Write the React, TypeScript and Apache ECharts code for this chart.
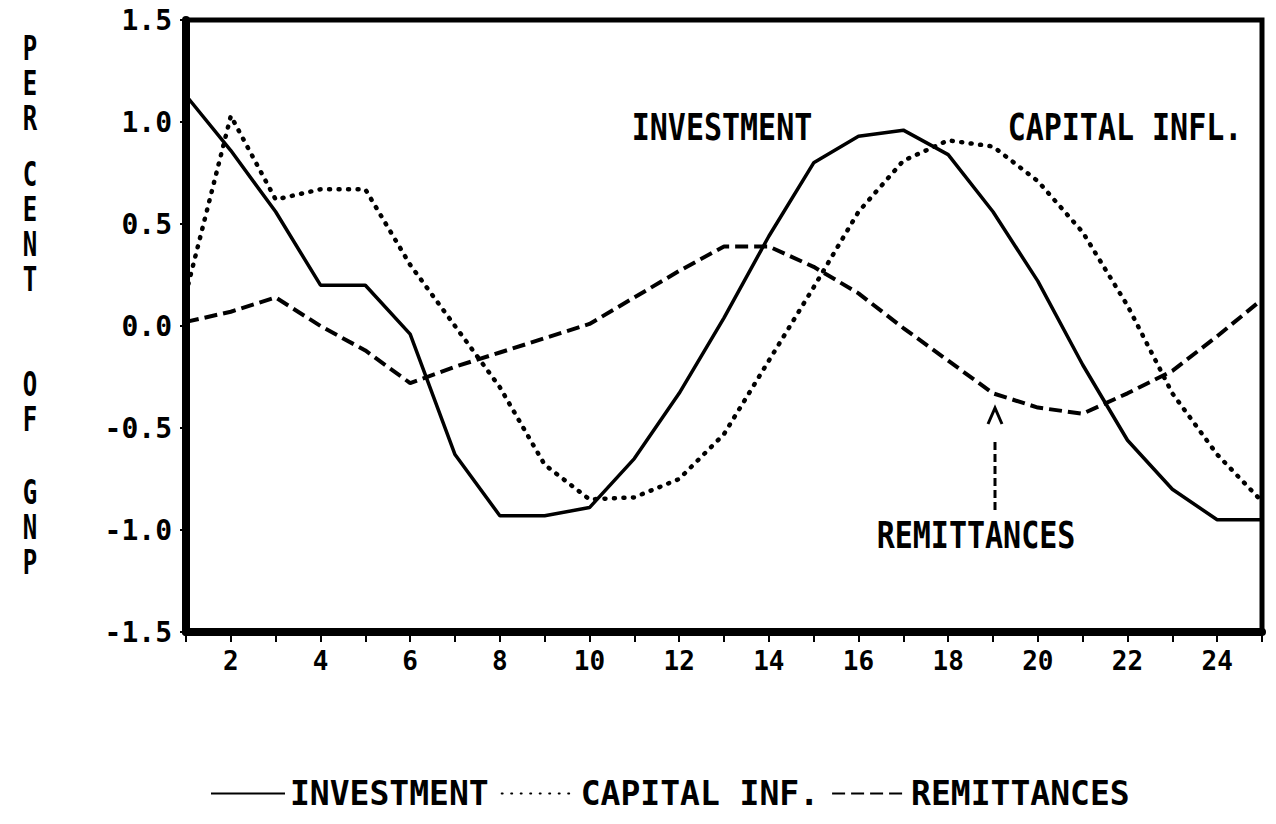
import React, { useEffect, useRef } from "react";
import * as echarts from "echarts";

const periods = [1, 2, 3, 4, 5, 6, 7, 8, 9, 10, 11, 12, 13, 14, 15, 16, 17, 18, 19, 20, 21, 22, 23, 24, 25];
const investment = [1.13, 0.86, 0.56, 0.2, 0.2, -0.04, -0.63, -0.93, -0.93, -0.89, -0.65, -0.33, 0.04, 0.44, 0.8, 0.93, 0.96, 0.84, 0.56, 0.22, -0.19, -0.56, -0.8, -0.95, -0.95];
const capitalInflows = [0.16, 1.03, 0.62, 0.67, 0.67, 0.3, 0.0, -0.3, -0.68, -0.85, -0.84, -0.75, -0.53, -0.17, 0.19, 0.56, 0.81, 0.91, 0.88, 0.71, 0.46, 0.1, -0.33, -0.63, -0.86];
const remittances = [0.02, 0.07, 0.14, 0.0, -0.12, -0.28, -0.2, -0.13, -0.06, 0.01, 0.14, 0.27, 0.39, 0.39, 0.29, 0.16, -0.01, -0.17, -0.33, -0.4, -0.43, -0.33, -0.22, -0.05, 0.13];

const seriesNames = ["INVESTMENT", "CAPITAL INF.", "REMITTANCES"];
const yTitleWords = ["P\nE\nR", "C\nE\nN\nT", "O\nF", "G\nN\nP"];
const yTitleTops = [31, 157, 367, 475];

const FONT = '"DejaVu Sans Mono", "Liberation Mono", monospace';

export default function App() {
  const ref = useRef<HTMLDivElement>(null);
  useEffect(() => {
    document.body.style.margin = "0";
    const chart = echarts.init(ref.current!, null, { renderer: "svg" });
    const pair = (arr: number[]) => periods.map((p, i) => [p, arr[i]]);
    const hiddenItem = { color: "rgba(0,0,0,0)", borderWidth: 0, opacity: 0 };
    chart.setOption({
      animation: false,
      backgroundColor: "#ffffff",
      grid: {
        left: 186,
        right: 14,
        top: 20,
        bottom: 192,
        show: true,
        borderColor: "#000",
        borderWidth: 5,
        backgroundColor: "transparent",
      },
      xAxis: {
        type: "value",
        min: 1,
        max: 25,
        interval: 1,
        splitLine: { show: false },
        axisLine: { show: true, onZero: false, lineStyle: { color: "#000", width: 8 } },
        axisTick: { show: true, length: 10, lineStyle: { color: "#000", width: 2 } },
        axisLabel: {
          margin: 16,
          fontFamily: FONT,
          fontWeight: "bold",
          fontSize: 26,
          color: "#000",
          formatter: (v: number) => (v % 2 === 0 ? String(v) : ""),
        },
      },
      yAxis: {
        type: "value",
        min: -1.5,
        max: 1.5,
        interval: 0.5,
        splitLine: { show: false },
        axisLine: { show: true, onZero: false, lineStyle: { color: "#000", width: 8 } },
        axisTick: { show: true, length: 6, lineStyle: { color: "#000", width: 2 } },
        axisLabel: {
          margin: 14,
          fontFamily: FONT,
          fontWeight: "bold",
          fontSize: 28,
          color: "#000",
          formatter: (v: number) => v.toFixed(1),
        },
      },
      legend: {
        left: 205,
        top: 772,
        itemWidth: 74,
        itemHeight: 14,
        itemGap: 12,
        data: seriesNames,
        itemStyle: hiddenItem,
        textStyle: { fontFamily: FONT, fontWeight: "bold", fontSize: 33, color: "#000" },
      },
      series: [
        {
          name: seriesNames[0],
          type: "line",
          data: pair(investment),
          symbol: "none",
          showSymbol: false,
          lineStyle: { color: "#000", width: 3.5, type: "solid" },
          itemStyle: hiddenItem,
        },
        {
          name: seriesNames[1],
          type: "line",
          data: pair(capitalInflows),
          symbol: "none",
          showSymbol: false,
          lineStyle: { color: "#000", width: 4.5, type: [1, 8.5], cap: "round" },
          itemStyle: hiddenItem,
        },
        {
          name: seriesNames[2],
          type: "line",
          data: pair(remittances),
          symbol: "none",
          showSymbol: false,
          lineStyle: { color: "#000", width: 4, type: [13, 6] },
          itemStyle: hiddenItem,
        },
      ],
      graphic: [
        ...yTitleWords.map((w, i) => ({
          type: "text",
          x: 30,
          y: yTitleTops[i],
          scaleY: 1.4,
          style: {
            text: w,
            fontFamily: FONT,
            fontWeight: "bold",
            fontSize: 24,
            lineHeight: 25,
            fill: "#000",
            textAlign: "center",
            textVerticalAlign: "top",
          },
        })),
        {
          type: "text",
          x: 722,
          y: 127,
          scaleY: 1.25,
          style: { text: "INVESTMENT", fontFamily: FONT, fontWeight: "bold", fontSize: 30, fill: "#000", textAlign: "center", textVerticalAlign: "middle" },
        },
        {
          type: "text",
          x: 1125,
          y: 127,
          scaleY: 1.25,
          style: { text: "CAPITAL INFL.", fontFamily: FONT, fontWeight: "bold", fontSize: 30, fill: "#000", textAlign: "center", textVerticalAlign: "middle" },
        },
        {
          type: "text",
          x: 976,
          y: 535,
          scaleY: 1.25,
          style: { text: "REMITTANCES", fontFamily: FONT, fontWeight: "bold", fontSize: 30, fill: "#000", textAlign: "center", textVerticalAlign: "middle" },
        },
        {
          type: "polyline",
          shape: { points: [[988, 424], [995, 408], [1002, 424]] },
          style: { stroke: "#000", lineWidth: 3, fill: null },
        },
        {
          type: "line",
          shape: { x1: 995, y1: 442, x2: 995, y2: 510 },
          style: { stroke: "#000", lineWidth: 3, lineDash: [8, 4] },
        },
      ],
    });
    return () => chart.dispose();
  }, []);
  return <div ref={ref} style={{ width: 1276, height: 824 }} />;
}
